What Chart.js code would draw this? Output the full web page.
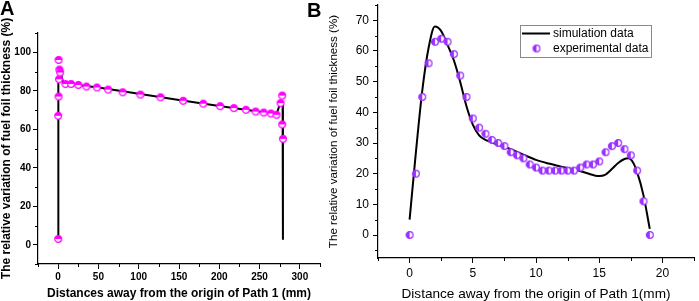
<!DOCTYPE html>
<html>
<head>
<meta charset="utf-8">
<script src="https://cdn.jsdelivr.net/npm/chart.js@4.4.1/dist/chart.umd.min.js"></script>
<style>
  html, body { margin: 0; padding: 0; background: #fff; }
  #wrap { position: relative; width: 699px; height: 301px; overflow: hidden; }
  #chartA { position: absolute; left: 0; top: 0; }
  #chartB { position: absolute; left: 325px; top: 0; }
  .tag { position: absolute; font: bold 20px "Liberation Sans", Arial, sans-serif; line-height: 20px; }
</style>
</head>
<body>
<div id="wrap">
  <canvas id="chartA" width="325" height="301"></canvas>
  <canvas id="chartB" width="374" height="301"></canvas>
  <div class="tag" style="left:0;top:-2px">A</div>
  <div class="tag" style="left:307px;top:0">B</div>
</div>
<script>
// ---- panel A: thickness along path 1 (0..280 mm)
const aTicksX = [0, 50, 100, 150, 200, 250, 300];
const aTicksY = [0, 20, 40, 60, 80, 100];
const aSimX = [0, 0, 0.5, 2, 4, 6.5, 15, 50, 100, 150, 200, 250, 271, 276, 278.6, 279];
const aSimY = [4.9, 70, 86, 90.5, 88, 83.8, 83.4, 81.7, 78.4, 75.2, 72.1, 69.1, 67.7, 74, 72.5, 2.6];
const aExpX = [0, 0, 0.5, 1, 0.5, 1.5, 2.5, 9, 16, 25, 35, 48, 62, 80, 102, 127, 155, 180, 201, 218, 233, 245, 255, 264, 271, 276, 278, 278, 279];
const aExpY = [3, 67, 77, 86, 96, 91, 89.5, 83.5, 83.5, 83, 82.2, 81.7, 80.6, 79.2, 78, 76.6, 74.8, 73.3, 72, 71, 70.1, 69.2, 68.7, 68.2, 67.5, 73.6, 77.5, 62.5, 55];

// ---- panel B: thickness along path 1 (0..19 mm)
const bTicksX = [0, 5, 10, 15, 20];
const bTicksY = [0, 10, 20, 30, 40, 50, 60, 70];
const bSimX = [0, 0.5, 1, 1.5, 2, 2.5, 3, 3.5, 4, 4.5, 5, 5.5, 6, 7, 8, 9, 10, 11, 12, 13, 14, 15, 15.5, 16, 16.5, 17, 17.3, 17.7, 18, 18.5, 19];
const bSimY = [5, 27, 47, 61, 68, 66.5, 62, 57, 50, 42, 36, 32.5, 31, 29.5, 28, 26.2, 24.5, 23.3, 22.3, 21.4, 20.2, 19.2, 19.7, 21.5, 23.5, 24.8, 25, 23.5, 20.5, 13, 2];
const bExpX = [0, 0.5, 1, 1.5, 2, 2.5, 3, 3.5, 4, 4.5, 5, 5.5, 6, 6.5, 7, 7.5, 8, 8.5, 9, 9.5, 10, 10.5, 11, 11.5, 12, 12.5, 13, 13.5, 14, 14.5, 15, 15.5, 16, 16.5, 17, 17.5, 18, 18.5, 19];
const bExpY = [0, 20, 45, 56, 63, 64, 63, 59, 52, 45, 38, 35, 33, 31, 30, 29, 27, 26, 25, 23, 22, 21, 21, 21, 21, 21, 21, 22, 23, 23, 24, 27, 29, 30, 28, 26, 21, 11, 0];

const FONT = '"Liberation Sans", Arial, sans-serif';
Chart.defaults.font.family = FONT;
Chart.defaults.color = '#000';

function toPoints(xs, ys) {
  return xs.map((x, i) => ({ x: x, y: ys[i] }));
}

// half filled circle used as point style
function halfDot(color, r, side) {
  const c = document.createElement('canvas');
  const s = Math.ceil(r * 2 + 3);
  c.width = s;
  c.height = s;
  const ctx = c.getContext('2d');
  const m = s / 2;
  ctx.beginPath();
  ctx.arc(m, m, r, 0, Math.PI * 2);
  ctx.fillStyle = '#fff';
  ctx.fill();
  ctx.beginPath();
  if (side === 'top') ctx.arc(m, m, r, Math.PI, Math.PI * 2);
  else ctx.arc(m, m, r, Math.PI / 2, Math.PI * 1.5);
  ctx.closePath();
  ctx.fillStyle = color;
  ctx.fill();
  ctx.beginPath();
  ctx.arc(m, m, r, 0, Math.PI * 2);
  ctx.strokeStyle = color;
  ctx.lineWidth = 1.2;
  ctx.stroke();
  return c;
}

const minorTicks = {
  id: 'minorTicks',
  afterDraw(chart, args, opts) {
    const ctx = chart.ctx;
    ctx.save();
    ctx.strokeStyle = '#000';
    ctx.lineWidth = 1;
    ['x', 'y'].forEach((id) => {
      const step = opts[id];
      const s = chart.scales[id];
      const major = s.ticks.map((t) => t.value);
      for (let n = Math.ceil(s.min / step); n <= Math.floor(s.max / step); n++) {
        const v = n * step;
        if (major.some((m) => Math.abs(m - v) < 1e-9)) continue;
        const p = Math.round(s.getPixelForValue(v)) + 0.5;
        ctx.beginPath();
        if (s.isHorizontal()) {
          ctx.moveTo(p, s.top);
          ctx.lineTo(p, s.top + 3);
        } else {
          ctx.moveTo(s.right - 3, p);
          ctx.lineTo(s.right, p);
        }
        ctx.stroke();
      }
    });
    ctx.restore();
  }
};

const legendBox = {
  id: 'legendBox',
  afterDraw(chart, args, opts) {
    if (!opts.show) return;
    const ctx = chart.ctx;
    const sets = chart.data.datasets;
    ctx.save();
    ctx.strokeStyle = '#8a8a8a';
    ctx.lineWidth = 1;
    ctx.strokeRect(opts.x + 0.5, opts.y + 0.5, opts.w, opts.h);
    ctx.font = '12px ' + FONT;
    ctx.textBaseline = 'middle';
    ctx.fillStyle = '#000';
    sets.forEach((ds, i) => {
      const cy = opts.y + 8.5 + i * 15;
      if (ds.showLine) {
        ctx.beginPath();
        ctx.strokeStyle = ds.borderColor;
        ctx.lineWidth = ds.borderWidth;
        ctx.moveTo(opts.x + 2, cy);
        ctx.lineTo(opts.x + 30, cy);
        ctx.stroke();
      } else {
        const img = ds.pointStyle;
        ctx.drawImage(img, opts.x + 16.5 - img.width / 2, cy - img.height / 2);
      }
      ctx.fillText(ds.label, opts.x + 33, cy + 0.5);
    });
    ctx.restore();
  }
};

function makeAxis(cfg) {
  return {
    type: 'linear',
    min: cfg.min,
    max: cfg.max,
    afterBuildTicks: (s) => { s.ticks = cfg.ticks.map((v) => ({ value: v })); },
    afterFit: (s) => {
      if (s.isHorizontal()) {
        s.height = cfg.size;
        s.paddingLeft = 0;
        s.paddingRight = 0;
      } else {
        s.width = cfg.size;
        s.paddingTop = 0;
        s.paddingBottom = 0;
      }
    },
    grid: { drawOnChartArea: false, drawTicks: true, tickLength: 5, color: '#000' },
    border: { display: true, color: '#000', width: 1.2 },
    ticks: { font: cfg.tickFont, padding: cfg.tickPad, color: '#000', maxRotation: 0, autoSkip: false },
    title: { display: true, text: cfg.title, font: cfg.titleFont, padding: cfg.titlePad, color: '#000' }
  };
}

new Chart(document.getElementById('chartA'), {
  type: 'scatter',
  data: {
    datasets: [
      {
        label: 'simulation data',
        data: toPoints(aSimX, aSimY),
        showLine: true,
        borderColor: '#000',
        borderWidth: 2,
        pointRadius: 0,
        tension: 0,
        order: 1
      },
      {
        label: 'experimental data',
        data: toPoints(aExpX, aExpY),
        showLine: false,
        pointStyle: halfDot('#ff00ff', 3.4, 'top'),
        pointRadius: 4,
        order: 0
      }
    ]
  },
  options: {
    responsive: false,
    animation: false,
    devicePixelRatio: 1,
    layout: { padding: { left: 0, right: 4, top: 33, bottom: 0 } },
    scales: {
      x: makeAxis({
        min: -25, max: 325, ticks: aTicksX, size: 37,
        tickFont: { size: 10, weight: 'bold' }, tickPad: 2,
        title: 'Distances away from the origin of Path 1 (mm)',
        titleFont: { size: 12, weight: 'bold', lineHeight: 1.15 }, titlePad: { top: 0, bottom: 0 }
      }),
      y: makeAxis({
        min: -10, max: 110, ticks: aTicksY, size: 38,
        tickFont: { size: 10, weight: 'bold' }, tickPad: 2,
        title: 'The relative variation of fuel foil thickness (%)',
        titleFont: { size: 12, weight: 'bold', lineHeight: 1.05 }, titlePad: { top: 0, bottom: 0 }
      })
    },
    plugins: {
      legend: { display: false },
      tooltip: { enabled: false },
      minorTicks: { x: 25, y: 10 },
      legendBox: { show: false }
    }
  },
  plugins: [minorTicks, legendBox]
});

new Chart(document.getElementById('chartB'), {
  type: 'scatter',
  data: {
    datasets: [
      {
        label: 'simulation data',
        data: toPoints(bSimX, bSimY),
        showLine: true,
        borderColor: '#000',
        borderWidth: 2,
        pointRadius: 0,
        cubicInterpolationMode: 'monotone',
        order: 1
      },
      {
        label: 'experimental data',
        data: toPoints(bExpX, bExpY),
        showLine: false,
        pointStyle: halfDot('#9b30ff', 3.4, 'left'),
        pointRadius: 4,
        order: 0
      }
    ]
  },
  options: {
    responsive: false,
    animation: false,
    devicePixelRatio: 1,
    layout: { padding: { left: 0, right: 1, top: 1, bottom: 0 } },
    scales: {
      x: makeAxis({
        min: -2.5, max: 22.5, ticks: bTicksX, size: 43,
        tickFont: { size: 12 }, tickPad: 3,
        title: 'Distance away from the origin of Path 1(mm)',
        titleFont: { size: 13.6, lineHeight: 1 }, titlePad: { top: 0, bottom: 0 }
      }),
      y: makeAxis({
        min: -7.5, max: 75, ticks: bTicksY, size: 53,
        tickFont: { size: 12 }, tickPad: 4,
        title: 'The relative variation of fuel foil thickness (%)',
        titleFont: { size: 11.6, lineHeight: 1.2 }, titlePad: { top: 2, bottom: 0 }
      })
    },
    plugins: {
      legend: { display: false },
      tooltip: { enabled: false },
      minorTicks: { x: 2.5, y: 5 },
      legendBox: { show: true, x: 195, y: 25, w: 131, h: 32 }
    }
  },
  plugins: [minorTicks, legendBox]
});
</script>
</body>
</html>
